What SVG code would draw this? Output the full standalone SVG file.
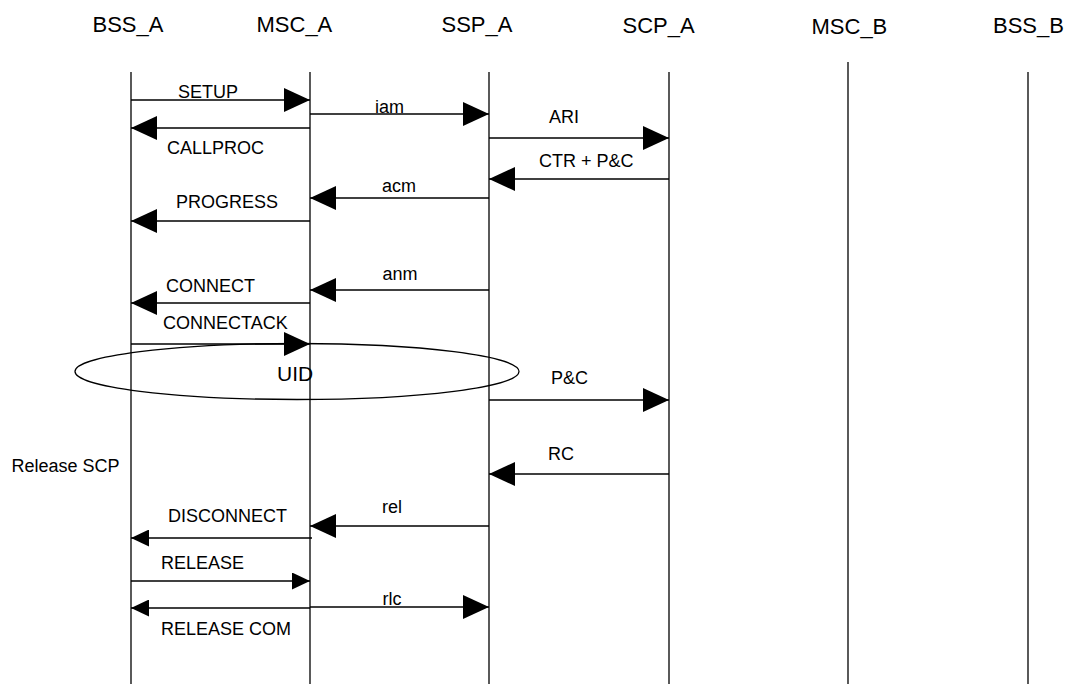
<svg xmlns="http://www.w3.org/2000/svg" width="1068" height="684" viewBox="0 0 1068 684">
<style>
text{font-family:"Liberation Sans",Arial,sans-serif;fill:#000}
.hd{font-size:22px}
.lb{font-size:18px}
.mid{text-anchor:middle}
.life{stroke:#000;stroke-width:1.3;fill:none}
.msg{stroke:#000;stroke-width:1.3;fill:none}
.big{marker-end:url(#ah)}
.sm{marker-end:url(#as)}
</style>
<defs>
<marker id="ah" markerUnits="userSpaceOnUse" markerWidth="26" markerHeight="24" refX="26" refY="12" orient="auto">
<path d="M0,0 L26,12 L0,24 z" fill="#000"/>
</marker>
<marker id="as" markerUnits="userSpaceOnUse" markerWidth="18" markerHeight="17" refX="18" refY="8.5" orient="auto">
<path d="M0,0 L18,8.5 L0,17 z" fill="#000"/>
</marker>
</defs>
<rect width="1068" height="684" fill="#fff"/>
<g id="BSS_A"><text class="hd" x="92.5" y="32">BSS_A</text><line class="life" x1="131" y1="72" x2="131" y2="684"/></g>
<g id="MSC_A"><text class="hd" x="256.5" y="32">MSC_A</text><line class="life" x1="310" y1="72" x2="310" y2="684"/></g>
<g id="SSP_A"><text class="hd" x="441.5" y="32">SSP_A</text><line class="life" x1="489" y1="72" x2="489" y2="684"/></g>
<g id="SCP_A"><text class="hd" x="622.5" y="32.5">SCP_A</text><line class="life" x1="669" y1="72" x2="669" y2="684"/></g>
<g id="MSC_B"><text class="hd" x="811.5" y="33.5">MSC_B</text><line class="life" x1="848" y1="62" x2="848" y2="684"/></g>
<g id="BSS_B"><text class="hd" x="993" y="33">BSS_B</text><line class="life" x1="1028" y1="72" x2="1028" y2="684"/></g>
<g id="UID"><ellipse cx="297" cy="371.5" rx="222" ry="28" fill="none" stroke="#000" stroke-width="1.3"/><text x="277" y="381" style="font-size:21px">UID</text></g>
<g id="note"><text class="lb" x="11.5" y="472">Release SCP</text></g>
<g id="connectors">
<line class="msg big" x1="131" y1="100" x2="310" y2="100"/>
<line class="msg big" x1="310" y1="114" x2="489" y2="114"/>
<line class="msg big" x1="310" y1="128" x2="131" y2="128"/>
<line class="msg big" x1="489" y1="138" x2="669" y2="138"/>
<line class="msg big" x1="669" y1="179" x2="489" y2="179"/>
<line class="msg big" x1="489" y1="198" x2="310" y2="198"/>
<line class="msg big" x1="310" y1="221" x2="131" y2="221"/>
<line class="msg big" x1="489" y1="290" x2="310" y2="290"/>
<line class="msg big" x1="310" y1="303" x2="131" y2="303"/>
<line class="msg big" x1="131" y1="344" x2="310" y2="344"/>
<line class="msg big" x1="489" y1="400" x2="669" y2="400"/>
<line class="msg big" x1="669" y1="474" x2="489" y2="474"/>
<line class="msg big" x1="489" y1="526" x2="310" y2="526"/>
<line class="msg sm" x1="312" y1="538" x2="131" y2="538"/>
<line class="msg sm" x1="131" y1="581" x2="310" y2="581"/>
<line class="msg sm" x1="310" y1="608" x2="131" y2="608"/>
<line class="msg big" x1="310" y1="607" x2="489" y2="607"/>
</g>
<g id="labels">
<text class="lb" x="178" y="98">SETUP</text>
<text class="lb mid" x="389.5" y="113">iam</text>
<text class="lb" x="167" y="154">CALLPROC</text>
<text class="lb" x="549" y="123">ARI</text>
<text class="lb" x="539" y="167">CTR + P&amp;C</text>
<text class="lb mid" x="399" y="192">acm</text>
<text class="lb" x="176" y="208">PROGRESS</text>
<text class="lb mid" x="400" y="280">anm</text>
<text class="lb" x="166" y="292">CONNECT</text>
<text class="lb" x="163" y="329">CONNECTACK</text>
<text class="lb" x="551" y="384">P&amp;C</text>
<text class="lb" x="548" y="460">RC</text>
<text class="lb mid" x="392" y="513">rel</text>
<text class="lb" x="168" y="522">DISCONNECT</text>
<text class="lb" x="161" y="569">RELEASE</text>
<text class="lb mid" x="392" y="605">rlc</text>
<text class="lb" x="161" y="635">RELEASE COM</text>
</g>
</svg>
